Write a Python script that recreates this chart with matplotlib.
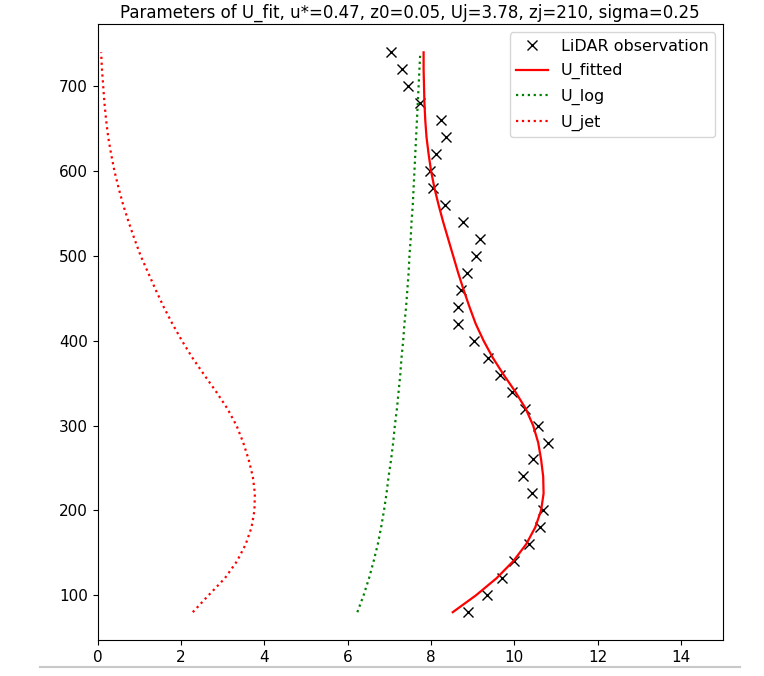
import matplotlib.pyplot as plt
from matplotlib.lines import Line2D

plt.rcParams['font.size'] = 11

# heights (m)
z = [80, 100, 120, 140, 160, 180, 200, 220, 240, 260, 280, 300, 320, 340, 360, 380, 400,
     420, 440, 460, 480, 500, 520, 540, 560, 580, 600, 620, 640, 660, 680, 700, 720, 740]

# LiDAR wind speed (m/s)
u_obs = [8.89, 9.33, 9.70, 10.00, 10.35, 10.62, 10.68, 10.43, 10.20, 10.45, 10.80, 10.57,
         10.25, 9.95, 9.65, 9.36, 9.03, 8.65, 8.65, 8.72, 8.86, 9.08, 9.17, 8.77, 8.33,
         8.05, 7.97, 8.12, 8.36, 8.24, 7.73, 7.44, 7.30, 7.04]

u_fitted = [8.52, 9.08, 9.57, 9.97, 10.28, 10.50, 10.64, 10.70, 10.69, 10.64, 10.57, 10.45,
            10.27, 10.02, 9.74, 9.48, 9.26, 9.07, 8.92, 8.78, 8.65, 8.53, 8.41, 8.29, 8.18,
            8.08, 8.00, 7.94, 7.89, 7.86, 7.84, 7.83, 7.82, 7.82]

u_log = [6.23, 6.38, 6.51, 6.62, 6.72, 6.80, 6.87, 6.93, 6.98, 7.04, 7.09, 7.13, 7.18,
         7.22, 7.26, 7.29, 7.33, 7.36, 7.40, 7.43, 7.46, 7.48, 7.51, 7.53, 7.56, 7.58,
         7.60, 7.62, 7.64, 7.66, 7.68, 7.70, 7.72, 7.74]

u_jet = [2.28, 2.66, 3.05, 3.34, 3.55, 3.69, 3.76, 3.77, 3.72, 3.62, 3.49, 3.33, 3.11,
         2.84, 2.55, 2.27, 2.02, 1.79, 1.58, 1.39, 1.21, 1.03, 0.88, 0.74, 0.61, 0.50,
         0.40, 0.32, 0.25, 0.20, 0.16, 0.13, 0.10, 0.08]

title = 'Parameters of U_fit, u*=0.47, z0=0.05, Uj=3.78, zj=210, sigma=0.25'

fig = plt.figure(figsize=(7.64, 6.76), dpi=100)
ax = fig.add_axes([0.128, 0.053, 0.818, 0.911])

ax.plot(u_obs, z, 'kx', ms=7, label='LiDAR observation')
ax.plot(u_fitted, z, 'r-', lw=1.6, label='U_fitted')
ax.plot(u_log, z, color='green', ls=':', lw=1.6, label='U_log')
ax.plot(u_jet, z, color='red', ls=':', lw=1.6, label='U_jet')

ax.set_xlim(0, 15)
ax.set_title(title, fontsize=12, pad=5)
ax.legend(loc='upper right', fontsize=11.5, labelspacing=0.6)

# notebook cell separator under the figure
fig.add_artist(Line2D([0.052, 0.969], [0.013, 0.013], color='#c8c8c8', lw=1.5))

fig.savefig('out.png', dpi=100)
